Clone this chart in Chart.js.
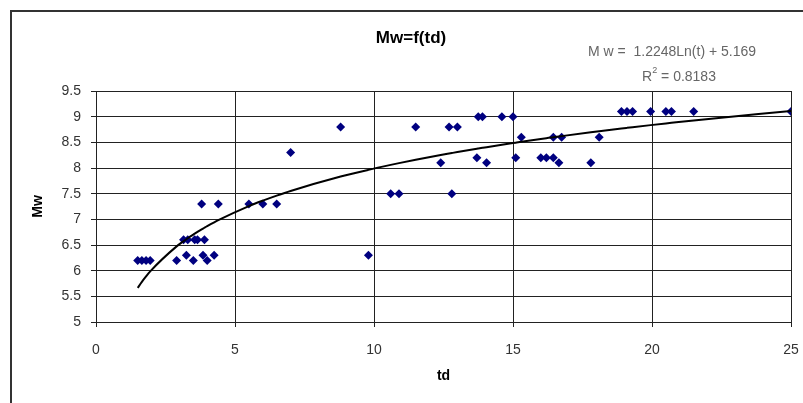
<!DOCTYPE html>
<html>
<head>
<meta charset="utf-8">
<script src="https://cdn.jsdelivr.net/npm/chart.js@4"></script>
<style>
  html, body { margin: 0; padding: 0; background: #fff; }
  #wrap { width: 803px; height: 403px; }
</style>
</head>
<body>
<div id="wrap"><canvas id="myChart" width="803" height="403"></canvas></div>
<script>
// measured points, td (x) and Mw (y)
var tdValues = [1.5, 1.65, 1.8, 1.95, 2.9, 3.25, 3.5, 3.85, 4.0, 4.25,
  3.15, 3.3, 3.55, 3.65, 3.9, 3.8, 4.4, 5.5, 6.0, 6.5,
  7.0, 8.8, 9.8, 10.6, 10.9, 11.5, 12.4, 12.7, 13.0, 12.8,
  13.7, 13.75, 13.9, 14.05, 14.6, 15.0, 15.1, 15.3, 16.0, 16.2,
  16.45, 16.65, 16.45, 16.75, 17.8, 18.1, 18.9, 19.1, 19.3, 19.95,
  20.5, 20.7, 21.5, 25];
var mwValues = [6.2, 6.2, 6.2, 6.2, 6.2, 6.3, 6.2, 6.3, 6.2, 6.3,
  6.6, 6.6, 6.6, 6.6, 6.6, 7.3, 7.3, 7.3, 7.3, 7.3,
  8.3, 8.8, 6.3, 7.5, 7.5, 8.8, 8.1, 8.8, 8.8, 7.5,
  8.2, 9.0, 9.0, 8.1, 9.0, 9.0, 8.2, 8.6, 8.2, 8.2,
  8.2, 8.1, 8.6, 8.6, 8.1, 8.6, 9.1, 9.1, 9.1, 9.1,
  9.1, 9.1, 9.1, 9.1];

// log trendline as printed on the chart
var trendA = 1.2248;
var trendB = 5.169;
var trendR2 = '0.8183';
var xTicks = [0, 5, 10, 15, 20, 25];

var points = [];
for (var i = 0; i < tdValues.length; i++) {
    points.push({x: tdValues[i], y: mwValues[i]});
}
var sortedX = tdValues.slice().sort(function(a, b) { return a - b; });
var trend = [];
sortedX.forEach(function(x) {
    trend.push({x: x, y: trendA * Math.log(x) + trendB});
});

var FONT = "Arial, 'Liberation Sans', sans-serif";

var textPlugin = {
    id: 'texts',
    beforeDraw: function(chart) {
        var c = chart.ctx;
        c.save();
        c.fillStyle = '#fff';
        c.fillRect(0, 0, chart.width, chart.height);
        c.strokeStyle = '#333';
        c.lineWidth = 2;
        c.strokeRect(11, 11, 830, 430);
        c.restore();
    },
    afterDraw: function(chart) {
        var c = chart.ctx;
        c.save();
        c.textBaseline = 'middle';
        c.textAlign = 'center';
        c.fillStyle = '#000';
        c.font = 'bold 17px ' + FONT;
        c.fillText('Mw=f(td)', 411, 38);

        c.fillStyle = '#666';
        c.font = '14px ' + FONT;
        c.fillText('M w =  ' + trendA.toFixed(4) + 'Ln(t) + ' + trendB, 672, 52);

        // R² line with a raised 2
        var a = 'R', b = ' = ' + trendR2;
        c.font = '14px ' + FONT;
        var wa = c.measureText(a).width, wb = c.measureText(b).width;
        c.font = '9px ' + FONT;
        var w2 = c.measureText('2').width;
        var x0 = 679 - (wa + w2 + wb) / 2;
        c.textAlign = 'left';
        c.font = '14px ' + FONT;
        c.fillText(a, x0, 77);
        c.font = '9px ' + FONT;
        c.fillText('2', x0 + wa, 71);
        c.font = '14px ' + FONT;
        c.fillText(b, x0 + wa + w2, 77);
        c.restore();
    }
};

var ctx = document.getElementById("myChart").getContext('2d');
var myChart = new Chart(ctx, {
    type: 'scatter',
    data: {
        datasets: [{
            label: 'Mw',
            data: points,
            pointStyle: 'rectRot',
            pointRadius: 4.5,
            pointBackgroundColor: '#000080',
            pointBorderColor: '#000080',
            borderWidth: 0,
            order: 1
        }, {
            label: 'trend',
            type: 'line',
            data: trend,
            borderColor: '#000',
            borderWidth: 2,
            pointRadius: 0,
            fill: false,
            cubicInterpolationMode: 'monotone',
            order: 0
        }]
    },
    options: {
        responsive: false,
        animation: false,
        layout: { padding: { left: 26, top: 91, right: 12, bottom: 14 } },
        plugins: {
            legend: { display: false },
            title: { display: false },
            tooltip: { enabled: false }
        },
        scales: {
            x: {
                type: 'linear',
                min: 0, max: 25,
                afterBuildTicks: function(axis) {
                    axis.ticks = xTicks.map(function(v) { return {value: v}; });
                },
                afterFit: function(axis) {
                    axis.height = 67;
                    axis.paddingLeft = 0;
                    axis.paddingRight = 0;
                },
                grid: { color: '#222', lineWidth: 1, tickLength: 5 },
                border: { color: '#222', width: 1 },
                ticks: { color: '#333', padding: 15, font: { family: FONT, size: 14 } },
                title: { display: true, text: 'td', color: '#000', font: { family: FONT, size: 14, weight: 'bold' } }
            },
            y: {
                min: 5, max: 9.5,
                ticks: {
                    stepSize: 0.5, color: '#333', padding: 10, font: { family: FONT, size: 14 },
                    callback: function(v) { return String(v); }
                },
                afterFit: function(axis) { axis.width = 70; },
                grid: { color: '#222', lineWidth: 1, tickLength: 5 },
                border: { color: '#222', width: 1 },
                title: { display: true, text: 'Mw', color: '#000', font: { family: FONT, size: 14, weight: 'bold' } }
            }
        }
    },
    plugins: [textPlugin]
});
</script>
</body>
</html>
